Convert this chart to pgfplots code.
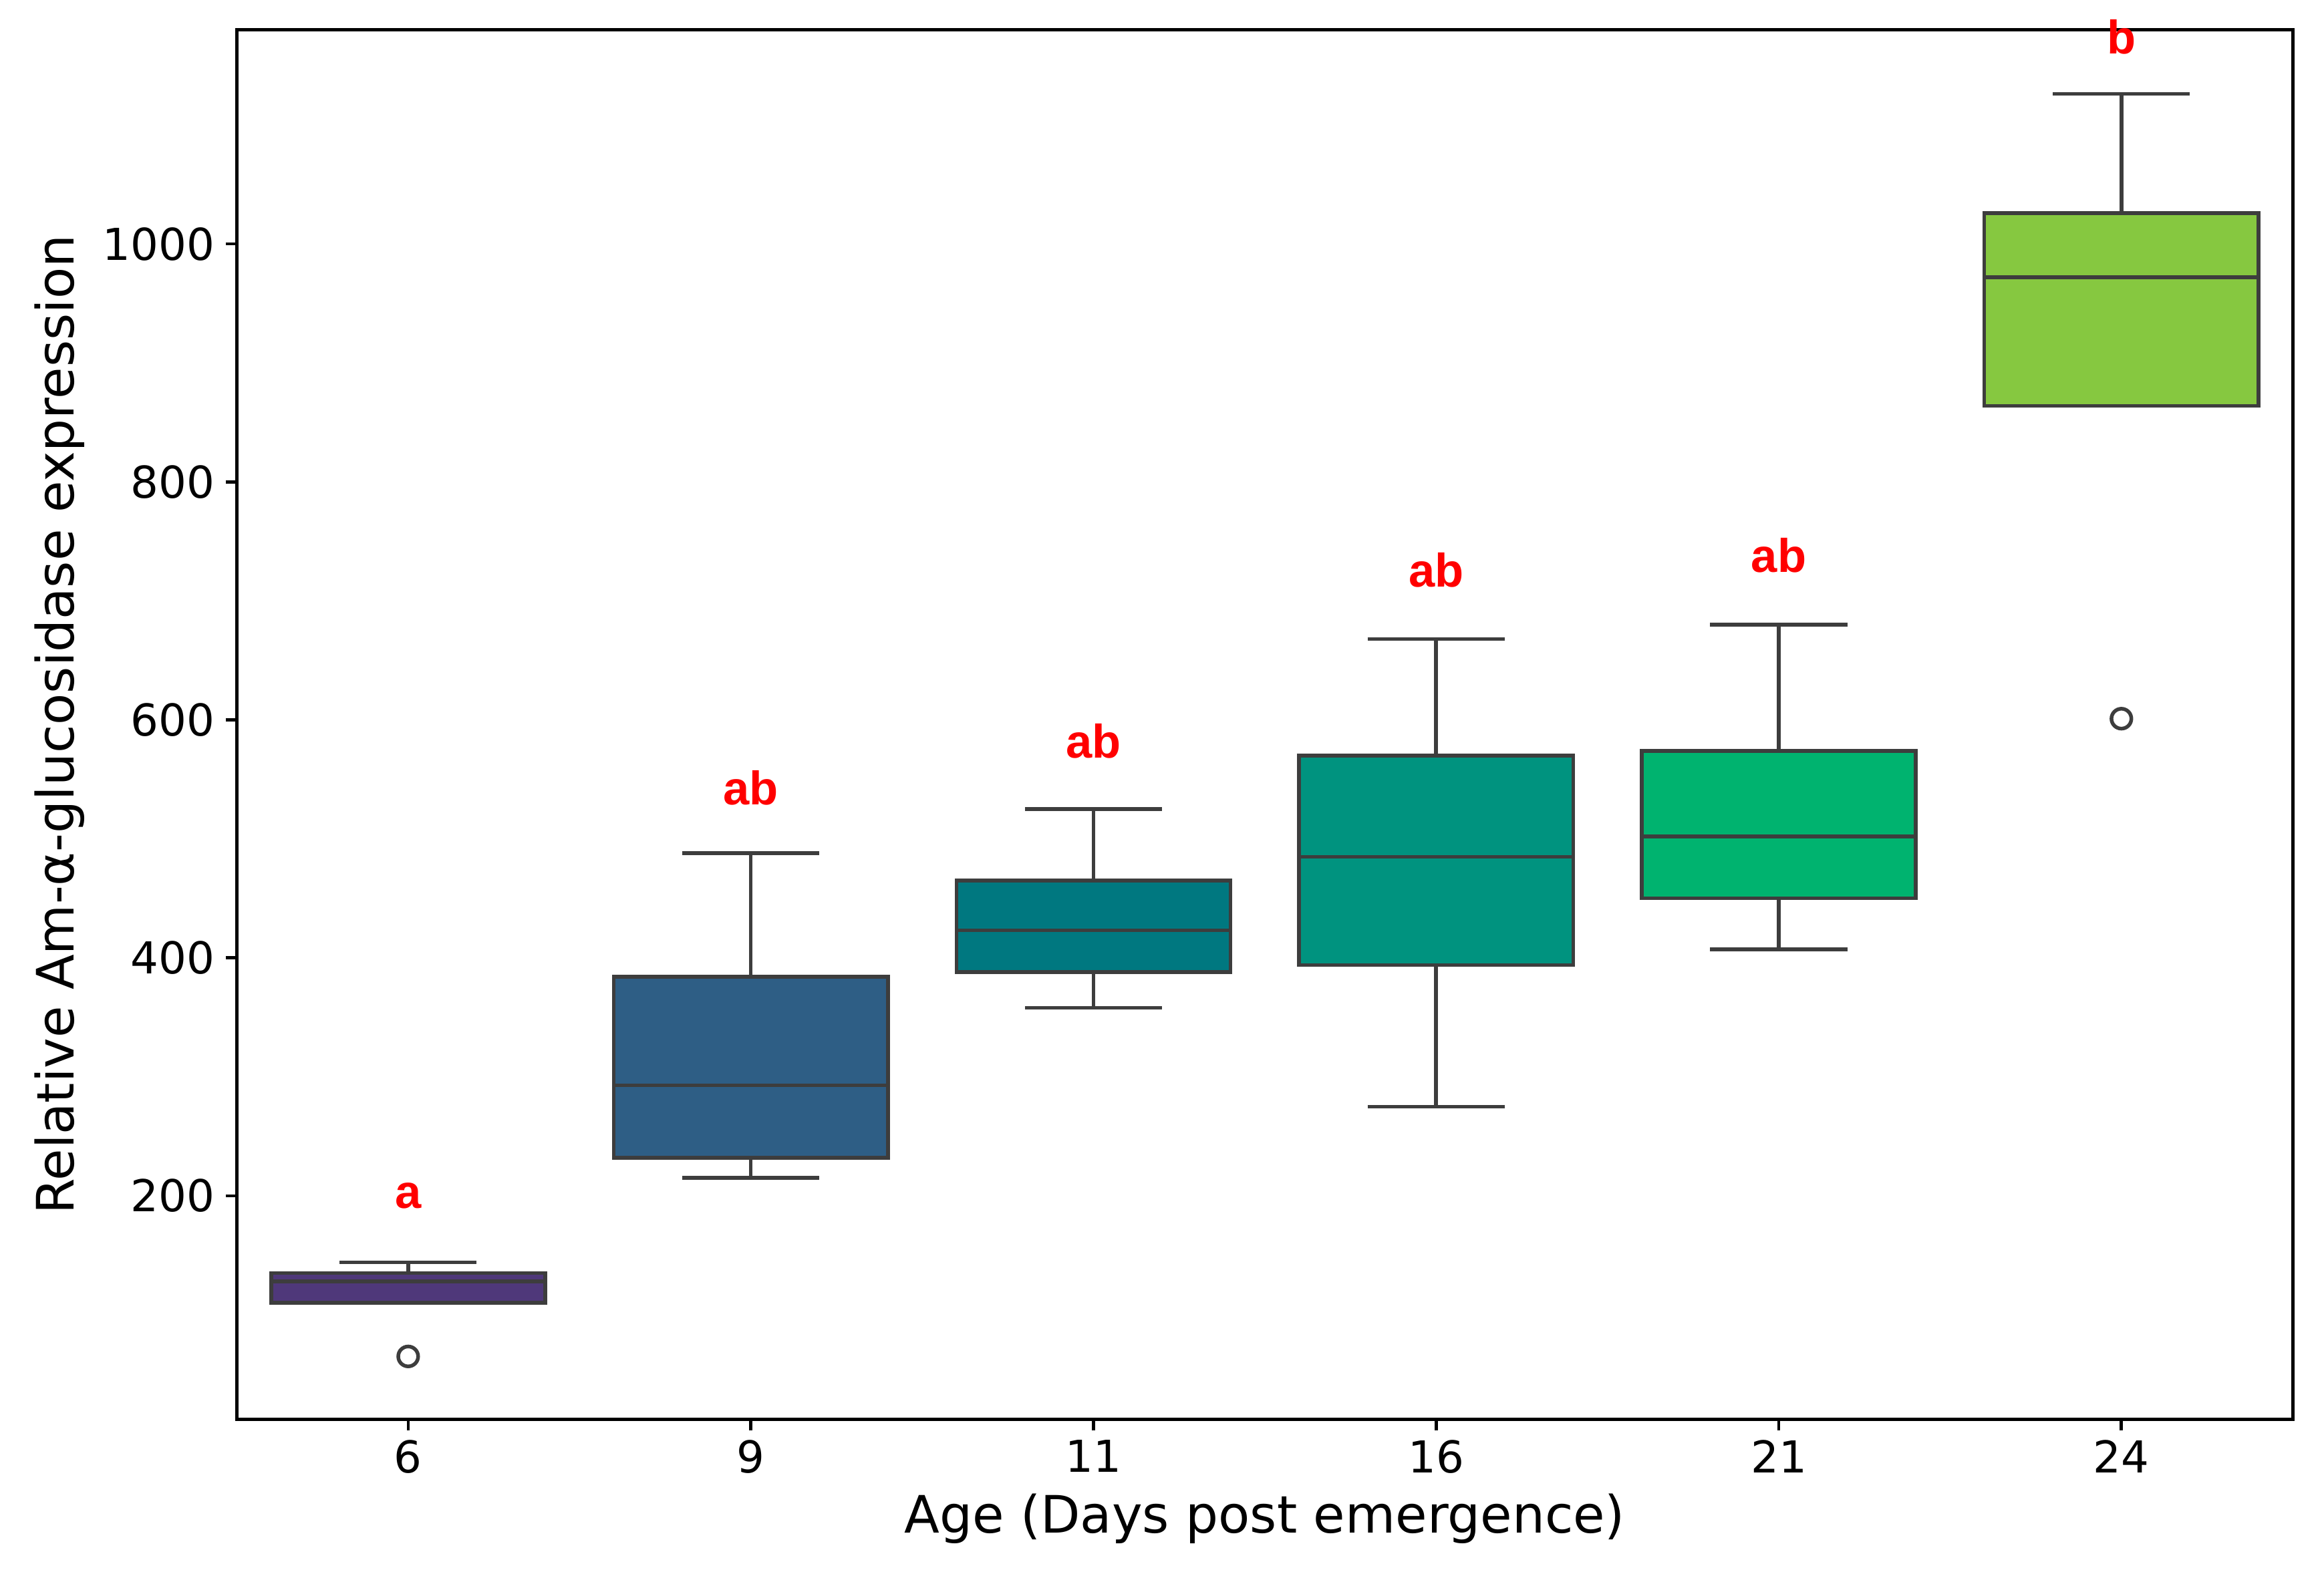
\documentclass[border=0pt]{standalone}
\usepackage{pgfplots}
\pgfplotsset{compat=1.18}
\usepgfplotslibrary{statistics}
\usepackage{fontspec}
\setmainfont{DejaVu Sans}
\newfontfamily\letterfont{Liberation Sans}

\definecolor{edge}{RGB}{61,61,61}
\definecolor{cA}{RGB}{79,56,122}
\definecolor{cB}{RGB}{46,94,133}
\definecolor{cC}{RGB}{0,120,128}
\definecolor{cD}{RGB}{0,147,127}
\definecolor{cE}{RGB}{0,179,111}
\definecolor{cF}{RGB}{134,200,64}

\begin{document}
\begin{tikzpicture}
\begin{axis}[
    scale only axis,
    width=13.80cm, height=9.33cm,
    xmin=-0.5, xmax=5.5, ymin=12, ymax=1180,
    xtick={0,1,2,3,4,5},
    xticklabels={6,9,11,16,21,24},
    ytick={200,400,600,800,1000},
    xtick pos=bottom, ytick pos=left,
    tick align=outside,
    major tick length=0.075cm,
    every tick/.style={black, line width=0.6pt},
    axis line style={line width=0.6pt},
    ticklabel style={font=\fontsize{8.4}{10}\selectfont},
    xticklabel style={yshift=0.06cm},
    yticklabel style={xshift=0.05cm},
    label style={font=\fontsize{9.85}{12}\selectfont},
    /pgf/number format/assume math mode=true,
    /pgf/number format/set thousands separator={},
    xlabel={Age (Days post emergence)},
    ylabel={Relative Am-α-glucosidase expression},
    xlabel style={at={(axis description cs:0.5,-0.0715)}, anchor=center},
    ylabel style={at={(axis description cs:-0.0862,0.5)}, anchor=center},
    boxplot/draw direction=y,
    boxplot/box extend=0.8,
    boxplot/whisker extend=0.4,
    clip=false,
]
% day 6
\addplot[boxplot prepared={draw position=0, lower whisker=110, lower quartile=110,
    median=128, upper quartile=135, upper whisker=144},
    fill=cA, draw=edge, line width=0.7pt, mark=o, mark size=1.9pt,
    mark options={draw=edge, fill=none}]
    table[row sep=\\, y index=0] {65\\};
% day 9
\addplot[boxplot prepared={draw position=1, lower whisker=215, lower quartile=232,
    median=293, upper quartile=384, upper whisker=488},
    fill=cB, draw=edge, line width=0.7pt] coordinates {};
% day 11
\addplot[boxplot prepared={draw position=2, lower whisker=358, lower quartile=388,
    median=423, upper quartile=465, upper whisker=525},
    fill=cC, draw=edge, line width=0.7pt] coordinates {};
% day 16
\addplot[boxplot prepared={draw position=3, lower whisker=275, lower quartile=394,
    median=485, upper quartile=570, upper whisker=668},
    fill=cD, draw=edge, line width=0.7pt] coordinates {};
% day 21
\addplot[boxplot prepared={draw position=4, lower whisker=407, lower quartile=450,
    median=502, upper quartile=574, upper whisker=680},
    fill=cE, draw=edge, line width=0.7pt] coordinates {};
% day 24
\addplot[boxplot prepared={draw position=5, lower whisker=864, lower quartile=864,
    median=972, upper quartile=1026, upper whisker=1126},
    fill=cF, draw=edge, line width=0.7pt, mark=o, mark size=1.9pt,
    mark options={draw=edge, fill=none}]
    table[row sep=\\, y index=0] {601\\};
% significance letters
\addplot[only marks, mark=none, nodes near coords, point meta=explicit symbolic,
    nodes near coords style={anchor=center, text=red,
        font=\letterfont\bfseries\fontsize{9}{10}\selectfont}]
    table[row sep=\\, meta=lab] {
    x y lab\\
    0 200 a\\
    1 543 ab\\
    2 582 ab\\
    3 726 ab\\
    4 738 ab\\
    5 1174 b\\
    };
\end{axis}
\path (-1.59cm,-1.01cm) rectangle (14.01cm,9.53cm);
\end{tikzpicture}
\end{document}
